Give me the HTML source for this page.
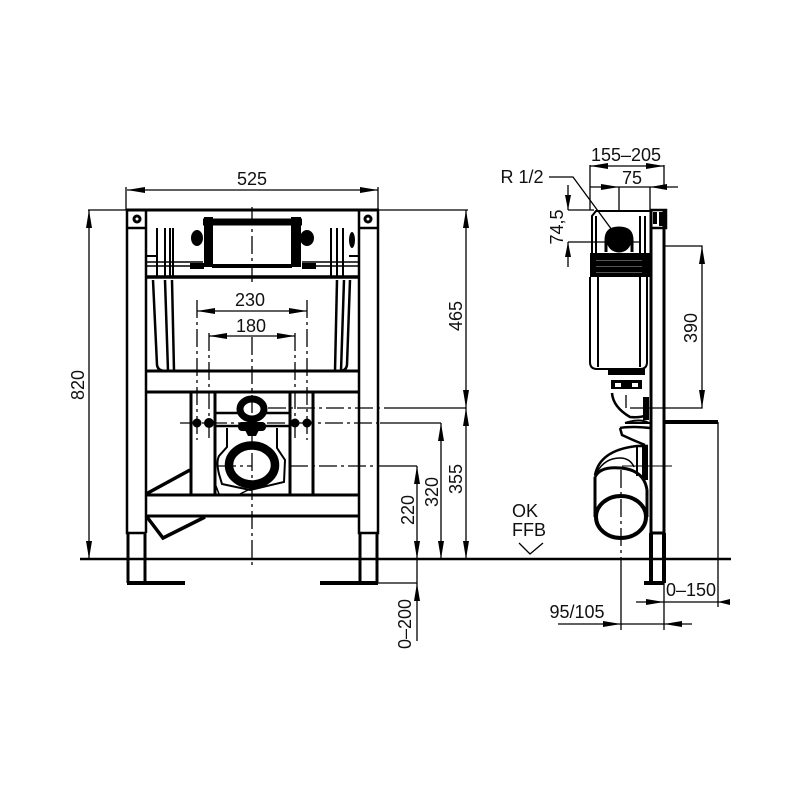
<!DOCTYPE html>
<html><head><meta charset="utf-8"><style>
html,body{margin:0;padding:0;background:#fff}
svg{display:block}
text{font-family:"Liberation Sans",sans-serif;font-size:18px;fill:#111}
</style></head><body>
<svg width="800" height="800" viewBox="0 0 800 800" xmlns="http://www.w3.org/2000/svg">
<defs>
<marker id="a" viewBox="0 0 18 6" refX="18" refY="3" markerWidth="18" markerHeight="6" markerUnits="userSpaceOnUse" orient="auto-start-reverse"><path d="M18 3L0 0V6Z" fill="#000"/></marker>
</defs>
<rect width="800" height="800" fill="#fff"/>

<!-- Front frame -->
<g fill="none" stroke="#000" stroke-width="2.5">
<path d="M126 210H379" stroke-width="3"/>
<path d="M127 210V533H146M146 210V533M359 210V533H378V210"/>
<path d="M128 533V583M145 533V583M360 533V583M377 533V583" stroke-width="3"/>
<path d="M127 583H185M320 583H378" stroke-width="4"/>
<path d="M127 228H146M359 228H378"/>
<path d="M146 371H359M146 392H359M146 495H359" stroke-width="3"/>
<path d="M146 516H359" stroke-width="3"/>
<path d="M191 392V495M215 392V495M290 392V495M313 392V495" stroke-width="3"/>
<path d="M146 494L190 470M147 517L163 538L205 517" stroke-width="3.5"/>
<!-- Tank -->
<path d="M157 228V277M165 228V277M170 228V277M173 228V277M331 228V277M337 228V277M343 228V277" stroke-width="2"/>
<path d="M153 280L157 365Q158 371 165 371M165 280L168 371M172 280L174 371M350 280L347 365Q346 371 340 371M337 280L335 371M344 280L341 371" stroke-width="2.5"/>
<path d="M146 256H156M349 256H359" stroke-width="2"/>
<path d="M146 277H359" stroke-width="3.5"/>
<path d="M146 262H203M302 262H359M146 266H203M302 266H359" stroke-width="1.5"/>
<path d="M203 222H302" stroke-width="7"/>
<path d="M212 266H292" stroke-width="4"/>
</g>
<rect x="204" y="217" width="9" height="50" fill="#000"/>
<rect x="291" y="217" width="10" height="50" fill="#000"/>
<g fill="#000">
<ellipse cx="197" cy="238" rx="6" ry="8"/><ellipse cx="307" cy="238" rx="7" ry="8"/>
<circle cx="137" cy="219" r="4.5"/><circle cx="368" cy="219" r="4.5"/>
<circle cx="197" cy="423" r="4.5"/><circle cx="209" cy="423" r="5"/><circle cx="295" cy="423" r="4.5"/><circle cx="307" cy="423" r="4.5"/>
<rect x="238" y="422" width="28" height="9" rx="4"/>
<path d="M244 428H260L256 436H248Z"/>
<rect x="190" y="263" width="14" height="6"/><rect x="302" y="263" width="14" height="6"/>
<ellipse cx="352" cy="240" rx="3" ry="8"/>
</g>
<circle cx="137" cy="219" r="1.5" fill="#fff"/><circle cx="368" cy="219" r="1.5" fill="#fff"/>

<!-- Front pan connector -->
<g fill="none" stroke="#000">
<ellipse cx="252" cy="409" rx="12" ry="10" stroke-width="7"/>
<ellipse cx="252" cy="465" rx="23" ry="19.5" stroke-width="8.5"/>
<path d="M215 413H240M264 413H290" stroke-width="2.5"/>
<path d="M215 426H290" stroke-width="2.5"/>
<path d="M227 428V447L219 456Q216 462 219 474L222 484L250 490L284 482L285 460L277 448V428" stroke-width="2"/>
<path d="M216 486L219 494M240 494L252 488" stroke-width="1.5"/>
</g>
<!-- Centre lines -->
<g fill="none" stroke="#000" stroke-width="1.3" stroke-dasharray="18 4 3 4">
<path d="M252 207V282"/>
<path d="M252 337V568"/>
<path d="M197 300V440M209 333V440M295 333V440M307 300V440"/>
<path d="M180 423H380"/>
<path d="M290 466H380"/>
<path d="M218 466H252"/>
<path d="M268 408H392"/>
</g>

<!-- Front dims -->
<g fill="none" stroke="#000" stroke-width="1.3">
<path d="M127 190H378" marker-start="url(#a)" marker-end="url(#a)"/>
<path d="M126 187V210M378 187V210"/>
<path d="M197 311H307" marker-start="url(#a)" marker-end="url(#a)"/>
<path d="M209 336H295" marker-start="url(#a)" marker-end="url(#a)"/>
<path d="M88 210H126M378 210H468"/>
<path d="M392 408H466M380 423H441M380 466H417"/>
<path d="M89 210V559" marker-start="url(#a)" marker-end="url(#a)"/>
<path d="M466 210V408" marker-start="url(#a)" marker-end="url(#a)"/>
<path d="M466 408V559" marker-start="url(#a)" marker-end="url(#a)"/>
<path d="M441 423V559" marker-start="url(#a)" marker-end="url(#a)"/>
<path d="M417 466V559" marker-start="url(#a)" marker-end="url(#a)"/>
<path d="M417 583V641" marker-start="url(#a)"/>
<path d="M378 583H417M417 559V583"/>
<path d="M80 559H731" stroke-width="2.5"/>
<path d="M519 543L530 554L543 543"/>
</g>

<!-- Side frame -->
<g fill="none" stroke="#000">
<path d="M651 210V533H664V210" stroke-width="3"/>
<path d="M650 210H666V228H650M650 533H664" stroke-width="2.5"/>
<path d="M651 533V583M664 533V583" stroke-width="4"/>
<path d="M644 583H664" stroke-width="4"/>
<path d="M665 422H718" stroke-width="4"/>
<!-- Side tank -->
<path d="M650 211H596L592 216V253M596 216V253M645 216V253M640 216V253" stroke-width="2"/>
<path d="M590 277V362Q590 369 597 369H640Q647 369 647 362V277M598 277V367M640 277V367" stroke-width="2"/>
<path d="M606 252V240Q606 228 619 228Q632 228 632 240V252" stroke-width="3"/>
<!-- Bend -->
<path d="M612 393Q613 407 630 417Q640 418 647 415" stroke-width="2.5"/>
<path d="M646 397V420" stroke-width="6"/>
<path d="M625 423Q640 418 649 423M625 423H650" stroke-width="2"/>
<path d="M620 428L622 435L633 440L645 445M620 428Q630 426 650 428" stroke-width="2.5"/>
<path d="M595 475Q600 450 637 446H648" stroke-width="2.5"/>
<path d="M597 472Q605 458 620 458Q630 458 634 467" stroke-width="1.5"/>
<path d="M637 447V476" stroke-width="2"/>
<path d="M645 447V480" stroke-width="6"/>
<!-- Pipe -->
<path d="M595 477V517" stroke-width="3"/>
<path d="M647 490V517" stroke-width="3"/>
<path d="M595 477Q600 466 621 468Q644 470 647 490" stroke-width="3"/>
<ellipse cx="621" cy="517" rx="25" ry="21" stroke-width="4"/>
<path d="M602 503Q620 490 640 503" stroke-width="2"/>
</g>
<rect x="590" y="253" width="60" height="24" fill="#000"/>
<g fill="#555"><rect x="596" y="260" width="46" height="1"/><rect x="596" y="266" width="46" height="1"/><rect x="596" y="272" width="46" height="1"/></g>
<circle cx="619" cy="240" r="12.5" fill="#000"/>
<rect x="608" y="369" width="37" height="6" fill="#000"/>
<rect x="611" y="380" width="31" height="9" fill="#000"/>
<rect x="615" y="383" width="6" height="4" fill="#fff"/><rect x="632" y="383" width="6" height="4" fill="#fff"/>
<rect x="653" y="212" width="4" height="12" fill="#000"/><rect x="659" y="212" width="4" height="14" fill="#000"/>

<!-- Side dims -->
<g fill="none" stroke="#000" stroke-width="1.3">
<path d="M590 166H664" marker-start="url(#a)" marker-end="url(#a)"/>
<path d="M590 165V210M664 165V187M650 187V210M619 187V210"/>
<path d="M590 187H678"/>
<path d="M619 187L601 184V190Z" fill="#000" stroke="none"/>
<path d="M650 187L667 184V190Z" fill="#000" stroke="none"/>
<path d="M549 177H573L612 230"/>
<path d="M568 185V210"/>
<path d="M568 210L565 195H571Z" fill="#000" stroke="none"/>
<path d="M568 242V267"/>
<path d="M568 242L565 257H571Z" fill="#000" stroke="none"/>
<path d="M568 210H594M568 242H640"/>
<path d="M665 246H702V408H630"/>
<path d="M702 246L699 264H705Z" fill="#000" stroke="none"/>
<path d="M702 408L699 390H705Z" fill="#000" stroke="none"/>
<path d="M718 422V607"/>
<path d="M636 602H730M664 560V630"/>
<path d="M664 602L646 599V605Z" fill="#000" stroke="none"/>
<path d="M718 602L730 599V605Z" fill="#000" stroke="none"/>
<path d="M558 624H692M621 630V560"/>
<path d="M621 470V560" stroke-dasharray="18 4 3 4"/>
<path d="M621 624L603 621V627Z" fill="#000" stroke="none"/>
<path d="M664 624L682 621V627Z" fill="#000" stroke="none"/>
<path d="M622 466H672" stroke-width="1"/>
<path d="M626 395V408"/>
</g>

<!-- Labels -->
<g>
<text x="252" y="185" text-anchor="middle">525</text>
<text x="250" y="306" text-anchor="middle">230</text>
<text x="251" y="332" text-anchor="middle">180</text>
<text transform="translate(84 385) rotate(-90)" text-anchor="middle">820</text>
<text transform="translate(462 316) rotate(-90)" text-anchor="middle">465</text>
<text transform="translate(462 479) rotate(-90)" text-anchor="middle">355</text>
<text transform="translate(438 492) rotate(-90)" text-anchor="middle">320</text>
<text transform="translate(414 510) rotate(-90)" text-anchor="middle">220</text>
<text transform="translate(411 624) rotate(-90)" text-anchor="middle">0–200</text>
<text x="626" y="161" text-anchor="middle">155–205</text>
<text x="632" y="184" text-anchor="middle">75</text>
<text x="522" y="183" text-anchor="middle">R 1/2</text>
<text transform="translate(563 227) rotate(-90)" text-anchor="middle">74,5</text>
<text transform="translate(697 328) rotate(-90)" text-anchor="middle">390</text>
<text x="512" y="517">OK</text>
<text x="512" y="536">FFB</text>
<text x="691" y="596" text-anchor="middle">0–150</text>
<text x="577" y="618" text-anchor="middle">95/105</text>
</g>
</svg>
</body></html>
